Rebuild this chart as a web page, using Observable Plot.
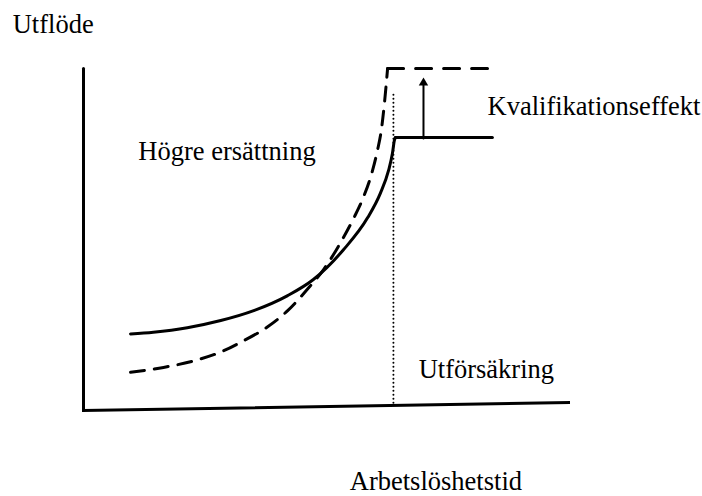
<!DOCTYPE html>
<html>
<head>
<meta charset="utf-8">
<script src="https://cdn.jsdelivr.net/npm/d3@7"></script>
<script src="https://cdn.jsdelivr.net/npm/@observablehq/plot@0.6"></script>
<style>
  html, body { margin: 0; padding: 0; background: #fff; }
</style>
</head>
<body>
<div id="chart"></div>
<script>
// Schematic values (x: unemployment duration, y: outflow)
const solidCurveX = [0.97, 1.44, 2.14, 2.83, 3.51, 4.21, 4.74, 5.36, 5.86, 6.12, 6.29, 6.37, 6.41, 6.43];
const solidCurveY = [2.24, 2.29, 2.42, 2.63, 2.92, 3.36, 3.83, 4.70, 5.64, 6.35, 7.02, 7.52, 7.90, 7.98];
const solidFlatX = [6.43, 8.43];
const solidFlatY = [7.98, 7.98];

const dashedCurveX = [0.97, 1.65, 2.35, 2.83, 3.30, 3.79, 4.21, 4.62, 4.95, 5.36, 5.57, 5.77, 5.96, 6.06, 6.14, 6.21, 6.27];
const dashedCurveY = [1.12, 1.26, 1.48, 1.71, 2.04, 2.44, 2.92, 3.55, 4.12, 5.06, 5.62, 6.23, 7.02, 7.60, 8.19, 9.06, 10.0];
const dashedFlatX = [6.27, 8.33];
const dashedFlatY = [10.0, 10.0];

const yAxisX = [0, 0];
const yAxisY = [0, 10];
const xAxisX = [0, 10];
const xAxisY = [0, 0.23];

const expiryX = 6.39;
const expiryY = [0.23, 9.27];

const arrowX = 7.01;
const arrowY = [7.95, 9.5];
const arrowHeadY = 9.58;

const labels = ["Utflöde", "Högre ersättning", "Kvalifikationseffekt", "Utförsäkring", "Arbetslöshetstid"];
const labelX = [-1.46, 1.13, 8.33, 6.91, 5.49];
const labelY = [11.05, 7.31, 8.63, 0.94, -2.33];

const pts = (xs, ys) => xs.map((x, i) => ({x, y: ys[i]}));
const labelData = labels.map((t, i) => ({t, x: labelX[i], y: labelY[i]}));

const chart = Plot.plot({
  width: 702,
  height: 496,
  marginLeft: 83,
  marginRight: 134,
  marginTop: 68,
  marginBottom: 86,
  style: {background: "#fff", fontFamily: "Liberation Serif, Times New Roman, serif"},
  x: {domain: [0, 10], axis: null},
  y: {domain: [0, 10], axis: null},
  marks: [
    // axes
    Plot.line(pts(yAxisX, yAxisY), {x: "x", y: "y", stroke: "#000", strokeWidth: 3}),
    Plot.line(pts(xAxisX, xAxisY), {x: "x", y: "y", stroke: "#000", strokeWidth: 3, strokeLinecap: "square"}),
    // expiry dotted line
    Plot.line(pts([expiryX, expiryX], expiryY), {x: "x", y: "y", stroke: "#000", strokeWidth: 2, strokeDasharray: "0,4", strokeLinecap: "round"}),
    // solid curve
    Plot.line(pts(solidCurveX, solidCurveY), {x: "x", y: "y", stroke: "#000", strokeWidth: 3, curve: "monotone-x"}),
    Plot.line(pts(solidFlatX, solidFlatY), {x: "x", y: "y", stroke: "#000", strokeWidth: 3}),
    // dashed curve
    Plot.line(pts(dashedCurveX, dashedCurveY), {x: "x", y: "y", stroke: "#000", strokeWidth: 3, strokeDasharray: "14,10", curve: "monotone-x"}),
    Plot.line(pts(dashedFlatX, dashedFlatY), {x: "x", y: "y", stroke: "#000", strokeWidth: 3, strokeDasharray: "16,12"}),
    // arrow
    Plot.line(pts([arrowX, arrowX], arrowY), {x: "x", y: "y", stroke: "#000", strokeWidth: 2}),
    Plot.dot([{x: arrowX, y: arrowHeadY}], {x: "x", y: "y", symbol: "triangle", r: 3.5, fill: "#000", stroke: "none"}),
    // labels
    Plot.text(labelData, {x: "x", y: "y", text: "t", textAnchor: "start", lineAnchor: "bottom", fontSize: 26.5, fill: "#000", fontFamily: "Liberation Serif"})
  ]
});
document.getElementById("chart").appendChild(chart);
</script>
</body>
</html>
